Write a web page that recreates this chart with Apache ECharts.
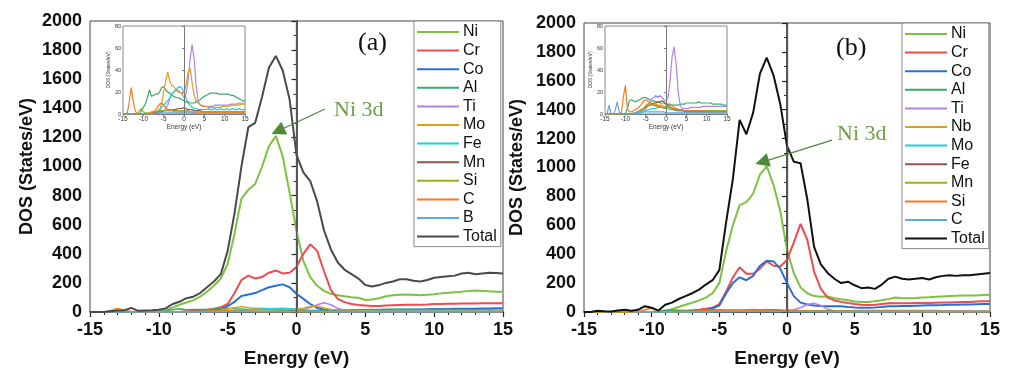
<!DOCTYPE html>
<html><head><meta charset="utf-8">
<script src="https://cdn.jsdelivr.net/npm/echarts@6/dist/echarts.min.js"></script>
<style>html,body{margin:0;padding:0;background:#fff}#c{width:1018px;height:376px}</style>
</head><body><div id="c"></div>
<script>
// Energy grid (eV)
const E = [-15,-14.5,-14,-13.5,-13,-12.5,-12,-11.5,-11,-10.5, -10,-9.5,-9,-8.5,-8,-7.5,-7,-6.5,-6,-5.5,
 -5,-4.5,-4,-3.5,-3,-2.5,-2,-1.5,-1,-0.5, 0,0.5,1,1.5,2,2.5,3,3.5,4,4.5,
 5,5.5,6,6.5,7,7.5,8,8.5,9,9.5, 10,10.5,11,11.5,12,12.5,13,13.5,14,14.5,15];

// ---------- Panel (a) ----------
const namesA = ['Ni','Cr','Co','Al','Ti','Mo','Fe','Mn','Si','C','B','Total'];
const niA = [0,0,0,0,0,0,0,0,0,0, 0,10,30,50,65,80,105,140,180,230, 330,540,780,840,880,1000,1140,1210,1070,820, 560,350,240,180,145,125,115,108,102,98, 82,86,95,108,115,118,120,118,115,118, 122,128,132,136,140,145,148,145,142,140,140];
const crA = [0,0,0,0,0,0,0,0,0,0, 0,0,0,2,5,8,12,16,22,32, 55,130,220,250,230,240,270,285,265,270, 310,400,465,420,280,150,90,68,55,48, 45,42,42,44,46,48,50,50,50,52, 55,55,56,57,58,58,59,60,60,60,60];
const coA = [0,0,0,0,0,0,0,0,0,0, 0,0,0,0,0,0,3,6,10,20, 40,70,110,120,130,150,170,180,190,170, 125,90,55,28,16,12,10,10,10,10, 10,11,12,14,15,15,16,18,18,19, 20,20,21,22,22,23,23,24,24,25,25];
const alA = [0,0,0,0,0,0,0,0,0,3, 6,9,15,22,16,17,18,18,20,24, 25,22,20,19,17,16,15,15,14,13, 12,11,11,10,10,10,11,12,13,15, 16,17,18,19,19,19,19,18,18,18, 18,18,18,17,17,16,15,14,13,12,12];
const tiA = [0,0,0,0,0,0,0,0,0,0, 0,0,0,0,0,0,0,0,1,2, 3,5,8,14,18,20,22,22,20,18, 15,18,30,50,63,50,25,12,8,7, 7,7,7,7,7,8,8,8,8,8, 8,8,8,9,9,9,9,10,10,10,10];
const moA = [0,0,0,0,0,0,0,0,0,0, 0,0,0,0,0,0,0,1,3,10, 20,30,38,30,26,25,22,20,20,18, 20,26,38,42,28,17,12,10,8,8, 7,7,6,6,6,6,6,6,6,7, 7,7,7,8,8,8,8,8,9,9,9];
const feA = [0,0,0,0,0,0,0,0,0,0, 0,0,0,0,0,0,2,3,4,6, 8,10,12,15,18,20,22,24,25,23, 20,14,10,8,6,5,5,4,4,4, 4,4,5,4,4,5,4,4,5,4, 4,5,4,4,5,4,4,5,4,4,4];
const mnA = [0,0,0,0,0,0,0,0,0,0, 0,0,0,0,0,1,1,2,2,2, 3,3,3,3,4,4,4,5,5,5, 6,5,4,4,4,3,3,3,3,2, 2,2,2,2,2,2,2,2,2,2, 2,2,2,2,2,2,2,2,2,2,2];
const siA = [0,0,0,0,0,0,0,0,3,5, 2,1,1,1,2,2,2,3,3,3, 3,3,4,4,4,3,3,3,3,3, 3,3,3,2,2,2,2,2,2,2, 2,2,2,2,2,2,2,2,2,2, 2,2,2,2,2,2,2,2,2,2,2];
const cA = [0,0,0,10,24,12,3,0,0,0, 0,0,0,0,1,2,4,6,9,10, 8,6,4,3,3,2,2,2,2,2, 2,2,2,2,1,1,1,1,1,1, 1,1,1,1,1,1,1,1,1,1, 1,1,1,1,1,1,1,1,1,1,1];
const bA = [0,0,0,0,0,0,0,0,0,0, 0,0,0,0,0,0,0,1,1,1, 1,1,1,1,1,1,1,1,1,1, 1,1,1,1,1,1,0,0,0,0, 0,0,0,0,0,0,0,0,0,0, 0,0,0,0,0,0,0,0,0,0,0];
const totalA = [0,0,0,5,10,12,28,8,10,12, 15,25,55,70,95,105,130,170,210,260, 420,680,1000,1270,1300,1480,1680,1760,1660,1460, 1080,960,900,760,560,430,340,290,260,230, 185,175,185,200,210,225,225,215,210,220, 235,240,245,250,265,270,260,265,270,268,265];

// ---------- Panel (b) ----------
const namesB = ['Ni','Cr','Co','Al','Ti','Nb','Mo','Fe','Mn','Si','C','Total'];
const niB = [0,0,0,0,0,0,0,0,0,0, 0,0,5,20,35,50,65,80,100,130, 200,420,600,740,760,820,950,1010,880,700, 430,270,170,130,110,105,108,95,88,82, 72,70,70,75,82,90,100,95,95,97, 100,102,105,108,110,112,115,115,115,118,120];
const crB = [0,0,0,0,0,0,0,0,0,0, 0,0,0,0,0,5,10,15,22,30, 55,140,240,310,265,265,300,350,320,315, 360,480,610,500,280,160,100,80,70,62, 55,50,48,50,55,60,60,60,60,62, 62,63,64,65,66,68,70,70,72,74,75];
const coB = [0,0,0,0,0,0,0,0,0,0, 0,0,0,0,0,0,3,6,12,25, 45,130,200,240,220,250,320,355,350,300, 200,110,65,52,45,42,40,40,40,35, 32,30,30,32,35,40,40,42,42,44, 45,46,47,48,50,50,52,52,54,55,55];
const alB = [0,0,0,0,0,0,0,0,0,0, 0,5,12,13,12,11,12,13,14,15, 15,14,13,12,12,11,11,10,10,10, 9,9,9,8,8,8,8,9,9,9, 10,10,10,10,10,10,11,10,10,10, 10,10,10,9,9,9,9,9,8,8,8];
const tiB = [0,0,0,0,0,0,0,0,0,0, 0,0,0,0,0,0,0,0,2,3, 5,8,10,14,15,17,15,17,15,13, 12,15,30,52,61,45,20,8,5,5, 5,5,6,6,6,6,6,6,7,7, 7,7,7,7,7,7,7,7,7,7,7];
const nbB = [0,0,0,0,0,0,0,0,0,0, 0,0,0,0,0,0,1,2,3,5, 8,9,10,10,9,9,8,8,8,7, 7,8,8,7,6,5,4,4,3,3, 3,3,3,3,3,3,3,3,3,3, 3,3,3,3,3,3,3,3,3,3,3];
const moB = [0,0,0,0,0,0,0,0,0,0, 0,0,0,0,0,0,1,1,2,2, 3,4,4,5,5,5,6,6,6,6, 5,5,4,4,4,3,3,3,3,2, 2,2,2,2,2,2,2,2,2,2, 2,2,2,2,2,2,2,2,2,2,2];
const feB = [0,0,0,0,0,0,0,0,0,0, 0,0,0,0,0,1,2,3,4,5, 6,7,8,9,10,10,11,11,12,11, 9,8,6,5,4,4,3,3,3,3, 2,2,2,2,2,2,2,2,2,2, 2,2,2,2,2,2,2,2,2,2,2];
const mnB = [0,0,0,0,0,0,0,0,0,0, 0,0,0,0,0,1,2,3,4,5, 7,8,8,8,8,7,7,6,6,5, 5,6,6,5,5,4,4,4,3,3, 3,3,3,3,3,3,3,3,3,3, 3,3,3,3,3,3,3,3,3,3,3];
const siB = [0,0,0,0,0,0,0,0,0,15, 26,5,2,2,3,4,5,7,9,12, 13,12,10,9,8,8,7,7,6,6, 6,6,6,5,5,5,4,4,4,3, 3,3,3,3,3,3,3,3,3,3, 2,2,2,2,2,2,2,2,2,2,2];
const cB = [0,0,8,0,0,3,11,2,0,0, 0,0,0,0,1,1,1,2,2,2, 2,2,2,2,2,2,2,2,2,2, 1,1,1,1,1,1,1,1,1,1, 1,1,1,1,1,1,1,1,1,1, 1,1,1,1,1,1,1,1,1,1,1];
const totalB = [0,0,8,5,3,10,15,8,15,40, 30,10,50,65,90,110,130,155,190,220, 290,620,920,1330,1230,1380,1650,1760,1640,1440, 1150,1040,1030,780,450,330,270,230,200,210, 185,165,170,160,190,230,245,230,225,230, 235,225,240,250,255,250,255,255,260,265,270];

const seriesA = [niA,crA,coA,alA,tiA,moA,feA,mnA,siA,cA,bA,totalA];
const seriesB = [niB,crB,coB,alB,tiB,nbB,moB,feB,mnB,siB,cB,totalB];
const colorsA = ['#7cc242','#f04a4f','#2a6fd6','#3aaa6c','#b382e6','#d9a21b','#1fd0d8','#8c5a4c','#9aae22','#f47b20','#5ea9e3','#4a4a4a'];
const colorsB = ['#7cc242','#f04a4f','#2a6fd6','#3aaa6c','#b382e6','#d9a21b','#1fd0d8','#8c5a4c','#9aae22','#f47b20','#5ea9e3','#111111'];
const yTicksMain = {min:0, max:2000, interval:200};
const yTicksInset = {min:0, max:80, interval:20};

const SANS = 'Liberation Sans, Arial, sans-serif';
const SERIF = 'Liberation Serif, Times New Roman, serif';
const plain = v => String(v);

function mainX(gi){
  return {type:'value', gridIndex:gi, min:-15, max:15, interval:5,
    axisLine:{onZero:false, lineStyle:{color:'#222', width:1.5}},
    axisTick:{length:5, lineStyle:{color:'#222', width:1.2}},
    minorTick:{show:true, splitNumber:5, length:3, lineStyle:{color:'#333'}},
    splitLine:{show:false},
    axisLabel:{fontSize:18, fontWeight:'bold', color:'#111', margin:9, fontFamily:SANS, formatter:plain},
    name:'Energy (eV)', nameLocation:'middle', nameGap:37,
    nameTextStyle:{fontSize:19, fontWeight:'bold', color:'#111', fontFamily:SANS}};
}
function mainY(gi, gap){
  return {type:'value', gridIndex:gi, min:yTicksMain.min, max:yTicksMain.max, interval:yTicksMain.interval,
    axisLine:{show:true, lineStyle:{color:'#222', width:1.5}},
    axisTick:{show:true, length:5, lineStyle:{color:'#222', width:1.2}},
    minorTick:{show:true, splitNumber:2, length:3, lineStyle:{color:'#333'}},
    splitLine:{show:false},
    axisLabel:{fontSize:18, fontWeight:'bold', color:'#111', margin:8, fontFamily:SANS, formatter:plain},
    name:'DOS (States/eV)', nameLocation:'middle', nameGap:gap, nameRotate:90,
    nameTextStyle:{fontSize:18, fontWeight:'bold', color:'#111', fontFamily:SANS}};
}
function insetX(gi){
  return {type:'value', gridIndex:gi, min:-15, max:15, interval:5,
    axisLine:{onZero:false, lineStyle:{color:'#777', width:1}},
    axisTick:{length:2, lineStyle:{color:'#777'}},
    splitLine:{show:false},
    axisLabel:{fontSize:6.5, color:'#333', margin:2, fontFamily:SANS, formatter:plain},
    name:'Energy (eV)', nameLocation:'middle', nameGap:10,
    nameTextStyle:{fontSize:6.5, color:'#333', fontFamily:SANS}};
}
function insetY(gi){
  return {type:'value', gridIndex:gi, min:yTicksInset.min, max:yTicksInset.max, interval:yTicksInset.interval,
    axisLine:{show:true, lineStyle:{color:'#777', width:1}},
    axisTick:{show:true, length:2, lineStyle:{color:'#777'}},
    splitLine:{show:false},
    axisLabel:{fontSize:5.5, color:'#333', margin:2, fontFamily:SANS, formatter:plain},
    name:'DOS (States/eV)', nameLocation:'middle', nameGap:11, nameRotate:90,
    nameTextStyle:{fontSize:5, color:'#333', fontFamily:SANS}};
}

const series = [];
function addSeries(names, arrs, colors, axisIdx, suffix, onlyMinor){
  arrs.forEach((arr, k) => {
    if (onlyMinor && (k < 3 || k > 10)) return;
    const main = !onlyMinor && (k < 3 || k === 11);
    series.push({
      type:'line', name: names[k] + suffix, xAxisIndex:axisIdx, yAxisIndex:axisIdx,
      data: E.map((e, i) => [e, arr[i]]),
      symbol:'none', showSymbol:false, silent:true, animation:false,
      lineStyle:{color:colors[k], width: onlyMinor ? 1.2 : (main ? 2 : 1.5)},
      itemStyle:{color:colors[k]},
      z: k === 11 ? 3 : 2
    });
  });
}
addSeries(namesA, seriesA, colorsA, 0, '', false);
addSeries(namesA, seriesA, colorsA, 1, '', true);
addSeries(namesB, seriesB, colorsB, 2, ' ', false);
addSeries(namesB, seriesB, colorsB, 3, ' ', true);

// zero lines
function zeroLine(color, w){ return {silent:true, symbol:'none', label:{show:false}, lineStyle:{color:color, width:w, type:'solid'}, data:[{xAxis:0}]}; }
series.find(s => s.xAxisIndex===0 && s.name==='Total').markLine = zeroLine('#555', 1.3);
series.find(s => s.xAxisIndex===2 && s.name==='Total ').markLine = zeroLine('#555', 1.3);
series.find(s => s.xAxisIndex===1).markLine = zeroLine('#777', 1);
series.find(s => s.xAxisIndex===3).markLine = zeroLine('#777', 1);

// Ni 3d arrows
function arrow(from, to){
  return {silent:true, symbol:['none','triangle'], symbolSize:14, label:{show:false},
    lineStyle:{color:'#4e8a3a', width:1.3, type:'solid'}, itemStyle:{color:'#4e8a3a'},
    data:[[{coord:from},{coord:to}]]};
}
series.find(s => s.xAxisIndex===0 && s.name==='Ni').markLine = arrow([2.07,1395],[-1.35,1244]);
series.find(s => s.xAxisIndex===2 && s.name==='Ni ').markLine = arrow([3.33,1190],[-1.84,1038]);

function legend(names, suffix, left, top){
  return {orient:'vertical', left:left, top:top, icon:'rect', itemWidth:42, itemHeight:2, itemGap:0.6,
    padding:[2,4,1,3], backgroundColor:'#fff', borderColor:'#888', borderWidth:1,
    selectedMode:false, data: names.map(n => n + suffix),
    formatter: n => n.trim(),
    textStyle:{fontSize:16, lineHeight:18, color:'#111', fontFamily:SANS, padding:[0,0,0,-1]}};
}

const option = {
  animation:false,
  backgroundColor:'#fff',
  grid:[
    {left:90, top:21, width:413, height:291, show:true, borderColor:'#444', borderWidth:1, backgroundColor:'transparent'},
    {left:123, top:26, width:122, height:88, show:true, borderColor:'#888', borderWidth:1, backgroundColor:'#fff'},
    {left:584, top:23, width:406, height:289, show:true, borderColor:'#444', borderWidth:1, backgroundColor:'transparent'},
    {left:605, top:26, width:122, height:88, show:true, borderColor:'#888', borderWidth:1, backgroundColor:'#fff'}
  ],
  xAxis:[mainX(0), insetX(1), mainX(2), insetX(3)],
  yAxis:[mainY(0, 54), insetY(1), mainY(2, 58), insetY(3)],
  legend:[legend(namesA, '', 414, 21), legend(namesB, ' ', 902, 23)],
  graphic:[
    {type:'text', left:358, top:30, style:{text:'(a)', font:'26px ' + SERIF, fill:'#111'}},
    {type:'text', left:836, top:35, style:{text:'(b)', font:'26px ' + SERIF, fill:'#111'}},
    {type:'text', left:334, top:99, style:{text:'Ni 3d', font:'22px ' + SERIF, fill:'#6f9e48'}},
    {type:'text', left:837, top:123, style:{text:'Ni 3d', font:'22px ' + SERIF, fill:'#6f9e48'}}
  ],
  series: series
};
const chart = echarts.init(document.getElementById('c'), null, {renderer:'canvas'});
chart.setOption(option);
</script>
</body></html>
